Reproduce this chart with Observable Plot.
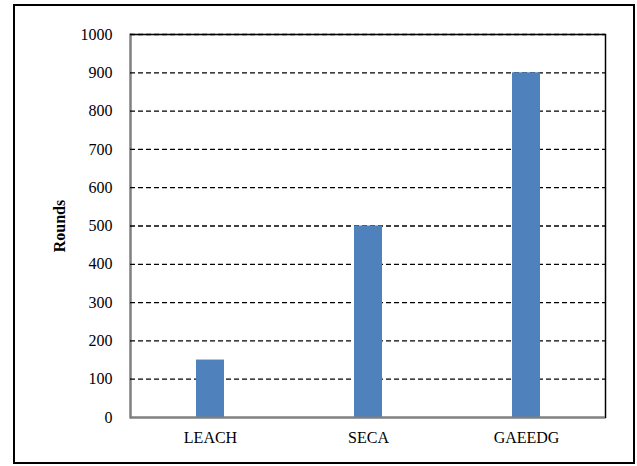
<!DOCTYPE html>
<html>
<head>
<meta charset="utf-8">
<script src="https://cdn.jsdelivr.net/npm/d3@7"></script>
<script src="https://cdn.jsdelivr.net/npm/@observablehq/plot@0.6"></script>
<style>
  html, body { margin: 0; padding: 0; background: white; }
  #wrap { position: relative; width: 637px; height: 466px; }
  #border { position: absolute; left: 13px; top: 4px; width: 618px; height: 456px; border: 2px solid black; pointer-events: none; }
  svg text { font-family: 'Liberation Serif', 'Times New Roman', serif; }
</style>
</head>
<body>
<div id="wrap"><div id="border"></div></div>
<script>
const categories = ["LEACH", "SECA", "GAEEDG"];
const rounds = [150, 500, 900];
const yTicks = [0, 100, 200, 300, 400, 500, 600, 700, 800, 900, 1000];
const yLabel = "Rounds";

const data = categories.map((c, i) => ({ c, v: rounds[i] }));

const chart = Plot.plot({
  width: 637,
  height: 466,
  marginLeft: 130,
  marginRight: 32,
  marginTop: 34,
  marginBottom: 49,
  style: { fontFamily: "'Liberation Serif', 'Times New Roman', serif", fontSize: "16px", background: "transparent", color: "black" },
  x: { domain: categories, paddingInner: 0.823, paddingOuter: 0.4115, label: null },
  y: { domain: [0, 1000], ticks: yTicks, label: null },
  marks: [
    Plot.frame({ stroke: "black", strokeWidth: 1.5 }),
    Plot.frame({ anchor: "left", stroke: "#808080", strokeWidth: 2 }),
    Plot.ruleY(yTicks.filter(t => t > 0), { stroke: "black", strokeWidth: 1.3, strokeDasharray: "5,3" }),
    Plot.barY(data, { x: "c", y: "v", fill: "#4F81BD" }),
    Plot.ruleY([0], { stroke: "#808080", strokeWidth: 2 }),
    Plot.axisY({ ticks: yTicks, tickSize: 0, tickPadding: 18, fontSize: 16, label: null, tickFormat: d => String(d) }),
    Plot.axisX({ tickSize: 0, tickPadding: 14, fontSize: 16, label: null }),
    Plot.text([yLabel], { frameAnchor: "left", textAnchor: "middle", dx: -71, rotate: -90, fontWeight: "bold", fontSize: 16, fill: "black" })
  ]
});
document.getElementById("wrap").prepend(chart);
</script>
</body>
</html>
